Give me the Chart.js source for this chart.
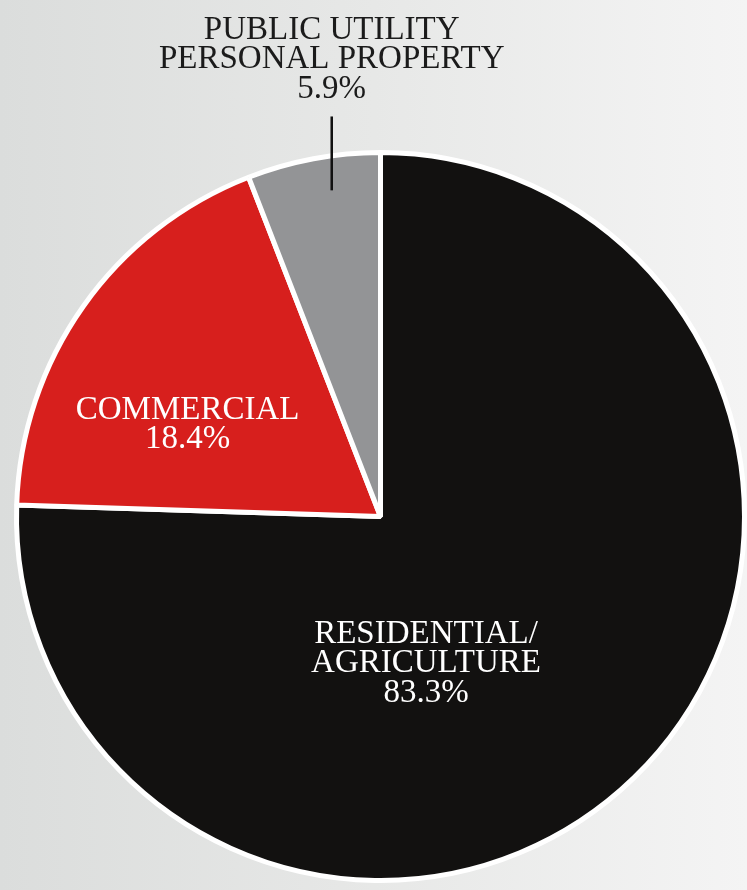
<!DOCTYPE html>
<html>
<head>
<meta charset="utf-8">
<script src="https://cdn.jsdelivr.net/npm/chart.js@4.4.1/dist/chart.umd.min.js"></script>
<style>
  html, body { margin: 0; padding: 0; }
  body { background: linear-gradient(to right, #dbdddc 0%, #e7e8e7 50%, #f4f4f4 100%); }
  #wrap { width: 747px; height: 890px; position: relative; }
</style>
</head>
<body>
<div id="wrap"><canvas id="pie"></canvas></div>
<script>
// Valores (fatias desenhadas) e textos impressos
const categories = ['RESIDENTIAL/AGRICULTURE', 'COMMERCIAL', 'PUBLIC UTILITY PERSONAL PROPERTY']
const shares = [75.5, 18.6, 5.9]
const printedPct = ['83.3%', '18.4%', '5.9%']
const labelLines = [
  ['RESIDENTIAL/', 'AGRICULTURE'],
  ['COMMERCIAL'],
  ['PUBLIC UTILITY', 'PERSONAL PROPERTY']
]
const sliceColors = ['#121110', '#d71f1d', '#939496']

const FONT = '33px "Liberation Serif", "DejaVu Serif", serif'
const LINE_H = 29.5

// Desenha os rótulos e a linha guia
const sliceLabels = {
  id: 'sliceLabels',
  afterDatasetsDraw(chart) {
    const ctx = chart.ctx
    const arcs = chart.getDatasetMeta(0).data
    const cx = arcs[0].x, cy = arcs[0].y, r = arcs[0].outerRadius

    ctx.save()
    ctx.font = FONT
    ctx.textAlign = 'center'
    ctx.textBaseline = 'alphabetic'

    const drawBlock = (lines, x, baseY, color) => {
      ctx.fillStyle = color
      lines.forEach((t, i) => ctx.fillText(t, x, baseY + i * LINE_H))
    }

    // residencial
    drawBlock(labelLines[0].concat(printedPct[0]), cx + r * 0.125, cy + r * 0.347, '#ffffff')
    // comercial
    drawBlock(labelLines[1].concat(printedPct[1]), cx - r * 0.53, cy - r * 0.269, '#ffffff')
    // utilidade pública (acima do gráfico)
    const lx = cx - r * 0.134
    drawBlock(labelLines[2].concat(printedPct[2]), lx, cy - r * 1.313, '#1b1b1b')

    ctx.strokeStyle = '#111111'
    ctx.lineWidth = 2.5
    ctx.beginPath()
    ctx.moveTo(lx, cy - r * 1.099)
    ctx.lineTo(lx, cy - r * 0.896)
    ctx.stroke()
    ctx.restore()
  }
}

new Chart(document.getElementById('pie'), {
  type: 'pie',
  data: {
    labels: categories,
    datasets: [{
      data: shares,
      backgroundColor: sliceColors,
      borderColor: '#ffffff',
      borderWidth: 5,
      hoverOffset: 0,
      offset: 0
    }]
  },
  options: {
    responsive: true,
    maintainAspectRatio: false,
    animation: false,
    layout: {
      padding: { left: 14, right: 0, top: 150, bottom: 7 }
    },
    plugins: {
      legend: { display: false },
      tooltip: { enabled: false }
    }
  },
  plugins: [sliceLabels]
})
</script>
</body>
</html>
